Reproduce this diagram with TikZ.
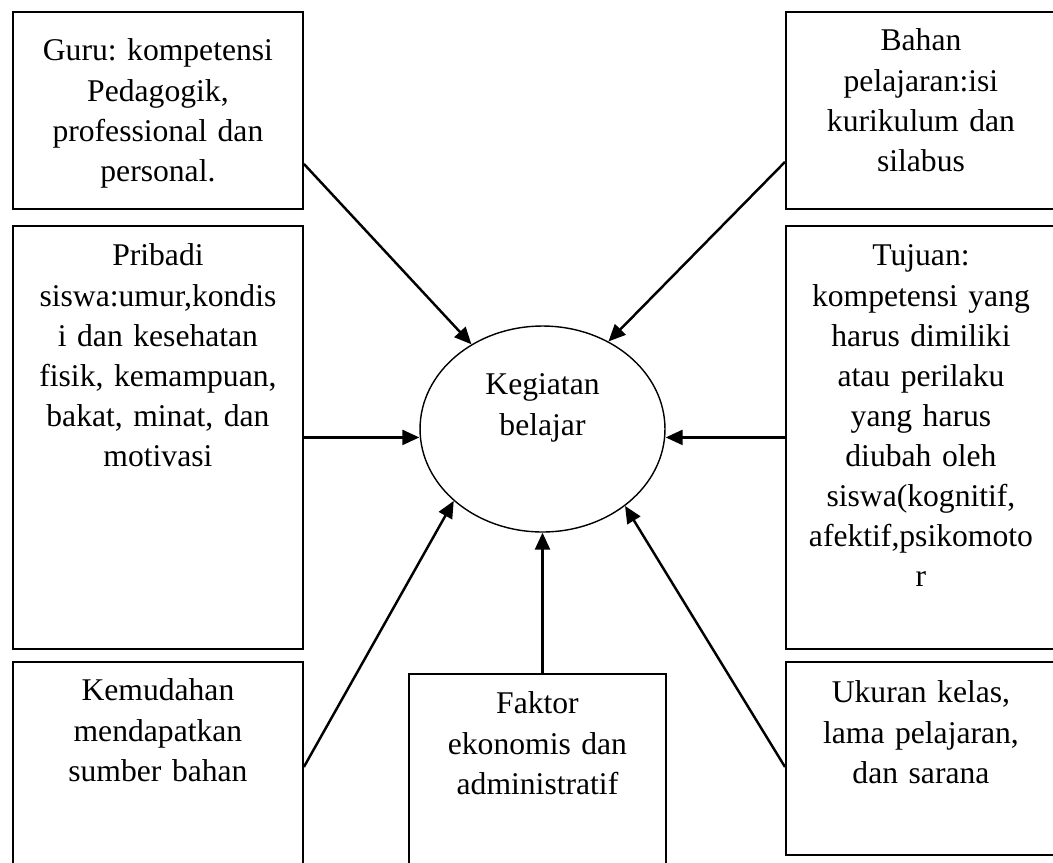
\documentclass[tikz,border=0pt]{standalone}
\usepackage{fontspec}
\setmainfont{Liberation Serif}
\frenchspacing
\usetikzlibrary{shapes.geometric}
\usetikzlibrary{arrows.meta}

\begin{document}
\begin{tikzpicture}[
    x=0.02cm, y=-0.02cm,
    font=\fontsize{18}{22.8}\selectfont,
    factor/.style={
        draw,
        line width=1.1pt,
        anchor=north west,
        inner sep=0pt,
        align=center,
        text width=5.8cm,
        text height=0.8cm,
    },
    activity/.style={
        draw,
        ellipse,
        line width=0.8pt,
        minimum width=4.9cm,
        minimum height=4.12cm,
        inner sep=0pt,
        align=center,
        text height=1.0cm,
        text depth=0.76cm,
    },
    influence/.style={
        -{Triangle[length=0.34cm, width=0.3cm]},
        line width=1.4pt,
    }
]

\useasboundingbox (0,0) rectangle (1053,862);
\clip (0,0) rectangle (1053,862);

% left column
\node[factor, text height=0.98cm, text depth=2.96cm] (guru) at (12,11)
    {Guru: kompetensi\\Pedagogik,\\professional dan\\personal.};
\node[factor, text depth=7.66cm] (pribadi) at (12,225)
    {Pribadi\\siswa:umur,kondis\\i dan kesehatan\\fisik, kemampuan,\\bakat, minat, dan\\motivasi};
\node[factor, text height=0.78cm, text depth=3.82cm] (kemudahan) at (12,661)
    {Kemudahan\\mendapatkan\\sumber bahan};

% bottom middle
\node[factor, text width=5.14cm, text depth=3.6cm] (faktor) at (408,673)
    {Faktor\\ekonomis dan\\administratif};

% right column
\node[factor, text width=5.4cm, text height=0.78cm, text depth=3.16cm] (bahan) at (785,11)
    {Bahan\\pelajaran:isi\\kurikulum dan\\silabus};
\node[factor, text width=5.4cm, text depth=7.66cm] (tujuan) at (785,225)
    {Tujuan:\\kompetensi yang\\harus dimiliki\\atau perilaku\\yang harus\\diubah oleh\\siswa(kognitif,\\afektif,psikomoto\\r};
\node[factor, text width=5.4cm, text height=0.82cm, text depth=3.04cm] (ukuran) at (785,661)
    {Ukuran kelas,\\lama pelajaran,\\dan sarana};

% centre
\node[activity] (keg) at (542.5,429) {Kegiatan\\belajar};

\draw[influence] ([yshift=0.92cm]guru.south east) -- (keg.130);
\draw[influence] ([yshift=0.96cm]bahan.south west) -- (keg.53);
\draw[influence] (pribadi.east) -- (pribadi.east -| keg.west);
\draw[influence] (tujuan.west) -- (tujuan.west -| keg.east);
\draw[influence] ([yshift=-2.12cm]kemudahan.north east) -- (keg.219);
\draw[influence] ([yshift=-2.12cm]ukuran.north west) -- (keg.317);
\draw[influence] (keg.south |- faktor.north) -- (keg.south);
\end{tikzpicture}
\end{document}
